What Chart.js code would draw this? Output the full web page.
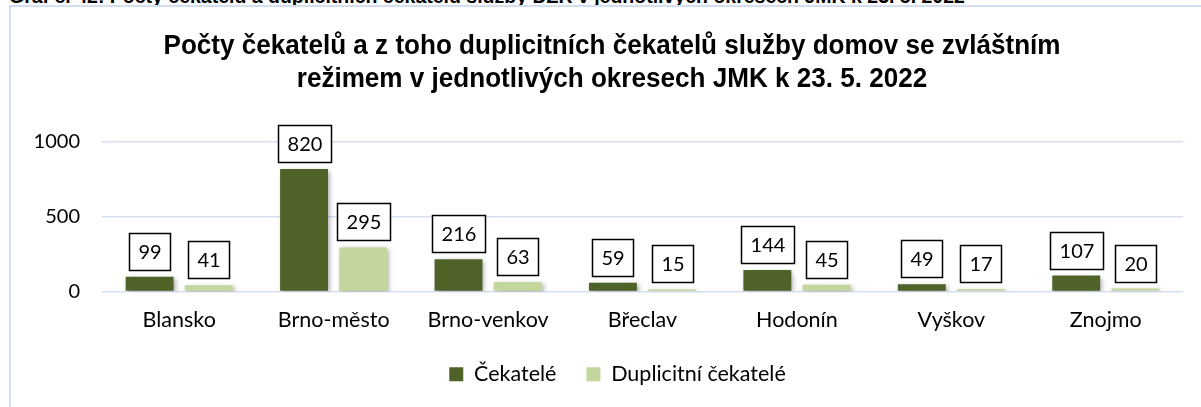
<!DOCTYPE html>
<html lang="cs">
<head>
<meta charset="UTF-8">
<title>Počty čekatelů DZR – JMK</title>
<script src="https://cdn.jsdelivr.net/npm/chart.js"></script>
<style>
  html, body { margin: 0; padding: 0; background: #fff; overflow: hidden; }
  body { width: 1201px; height: 407px; position: relative; }
  .caption {
    position: absolute; left: 9px; top: -14px;
    font: bold 19.5px "Liberation Sans", Arial, sans-serif;
    line-height: 20px; color: #000; white-space: nowrap;
  }
  .frame {
    position: absolute; left: 9px; top: 5px; width: 1300px; height: 500px;
    border: 2px solid #d3def0;
  }
  .wrap { position: absolute; left: 0; top: 0; width: 1201px; height: 430px; }
</style>
</head>
<body>
<div class="caption">Graf č. 42: Počty čekatelů a duplicitních čekatelů služby DZR v jednotlivých okresech JMK k 23. 5. 2022</div>
<div class="frame"></div>
<div class="wrap"><canvas id="chart"></canvas></div>
<script>
// okresy a hodnoty k 23. 5. 2022
const okresy = ['Blansko', 'Brno-město', 'Brno-venkov', 'Břeclav', 'Hodonín', 'Vyškov', 'Znojmo'];
const cekatele = [99, 820, 216, 59, 144, 49, 107];
const duplicitni = [41, 295, 63, 15, 45, 17, 20];
const yTicks = [0, 500, 1000];
const nadpis = [
  'Počty čekatelů a z toho duplicitních čekatelů služby domov se zvláštním',
  'režimem v jednotlivých okresech JMK k 23. 5. 2022'
];

const FONT = 'Lato, "Open Sans", sans-serif';

// nadpis zúženým tučným písmem (Arial Narrow není k dispozici)
const narrowTitle = {
  id: 'narrowTitle',
  afterDraw(chart) {
    const ctx = chart.ctx;
    ctx.save();
    ctx.font = 'bold 28.5px "Liberation Sans", Arial, sans-serif';
    ctx.fillStyle = '#000';
    ctx.textAlign = 'center';
    ctx.textBaseline = 'alphabetic';
    const sx = 897 / ctx.measureText(nadpis[0]).width;
    const cx = 612;
    ctx.translate(cx, 0);
    ctx.scale(sx, 1);
    nadpis.forEach((line, i) => ctx.fillText(line, 0, 54 + i * 33));
    ctx.restore();
  }
};

// stín pod sloupci
const barShadow = {
  id: 'barShadow',
  beforeDatasetDraw(chart) {
    const ctx = chart.ctx;
    ctx.save();
    ctx.shadowColor = 'rgba(0,0,0,0.35)';
    ctx.shadowBlur = 5;
    ctx.shadowOffsetX = 2;
    ctx.shadowOffsetY = 2;
  },
  afterDatasetDraw(chart) {
    chart.ctx.restore();
  }
};

// popisky hodnot v rámečku nad sloupci
const boxLabels = {
  id: 'boxLabels',
  afterDatasetsDraw(chart) {
    const ctx = chart.ctx;
    ctx.save();
    ctx.font = '20px ' + FONT;
    ctx.textAlign = 'center';
    ctx.textBaseline = 'middle';
    chart.data.datasets.forEach((ds, i) => {
      chart.getDatasetMeta(i).data.forEach((bar, j) => {
        const txt = String(ds.data[j]);
        const w = Math.round(ctx.measureText(txt).width) + 18;
        const h = 37;
        const x = Math.round(bar.x - w / 2);
        const y = Math.round(bar.y - 7 - h);
        ctx.fillStyle = '#fff';
        ctx.fillRect(x, y, w, h);
        ctx.strokeStyle = '#000';
        ctx.lineWidth = 1.5;
        ctx.strokeRect(x + 0.5, y + 0.5, w, h);
        ctx.fillStyle = '#000';
        ctx.fillText(txt, x + w / 2 + 0.5, y + h / 2 + 1);
      });
    });
    ctx.restore();
  }
};

// legenda je posunutá trochu doprava
const legendShift = {
  id: 'legendShift',
  afterLayout(chart) {
    chart.legend.left += 26;
    chart.legend.right += 26;
  }
};

new Chart(document.getElementById('chart'), {
  type: 'bar',
  data: {
    labels: okresy,
    datasets: [
      { label: 'Čekatelé', data: cekatele, backgroundColor: '#4f6228' },
      { label: 'Duplicitní čekatelé', data: duplicitni, backgroundColor: '#c3d69b' }
    ]
  },
  options: {
    responsive: true,
    maintainAspectRatio: false,
    animation: false,
    categoryPercentage: 0.766,
    barPercentage: 0.81,
    layout: { padding: { left: 0, right: 18, top: 142, bottom: 35 } },
    plugins: {
      title: { display: false },
      legend: {
        position: 'bottom',
        labels: {
          color: '#000',
          font: { family: FONT, size: 21.5 },
          boxWidth: 14,
          boxHeight: 14,
          padding: 30
        }
      },
      tooltip: { enabled: false }
    },
    scales: {
      x: {
        afterFit(scale) { scale.height = 42; },
        grid: { display: false, drawTicks: false },
        border: { display: false },
        ticks: { color: '#000', font: { family: FONT, size: 21.5 }, padding: 16 }
      },
      y: {
        min: 0,
        max: 1000,
        afterBuildTicks(scale) {
          scale.ticks = yTicks.map(v => ({ value: v }));
        },
        afterFit(scale) { scale.width = 102; },
        grid: { color: '#d6e0f1', lineWidth: 1.5, drawTicks: false },
        border: { display: false },
        ticks: {
          color: '#000',
          font: { family: FONT, size: 20 },
          padding: 22,
          callback: v => String(v)
        }
      }
    }
  },
  plugins: [barShadow, boxLabels, legendShift, narrowTitle]
});
</script>
</body>
</html>
